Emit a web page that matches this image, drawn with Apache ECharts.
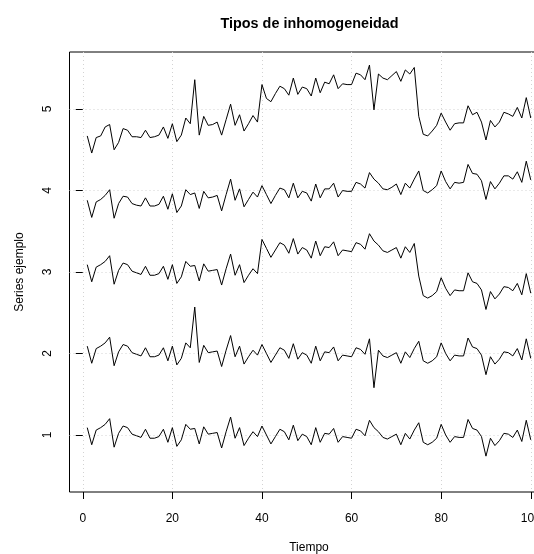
<!DOCTYPE html>
<html>
<head>
<meta charset="utf-8">
<script src="https://cdn.jsdelivr.net/npm/echarts@6/dist/echarts.min.js"></script>
<style>
    html, body { margin: 0; padding: 0; background: #fff; }
    #main { width: 534px; height: 554px; }
</style>
</head>
<body>
<div id="main"></div>
<script>
var xTicks = [0, 20, 40, 60, 80, 100];
var yTicks = [1, 2, 3, 4, 5];

// serie base (sin inhomogeneidad)
var serie1 = [
    1.09, 0.88, 1.06, 1.09, 1.13, 1.20, 0.85, 1.02, 1.11, 1.09,
    1.01, 0.99, 0.97, 1.07, 0.96, 0.96, 0.98, 1.07, 0.91, 1.09,
    0.86, 0.94, 1.13, 1.07, 1.08, 0.89, 1.10, 1.01, 1.02, 1.03,
    0.84, 1.04, 1.22, 0.96, 1.09, 0.87, 0.96, 1.04, 0.98, 1.11,
    1.00, 0.89, 0.98, 1.07, 1.04, 0.94, 1.12, 0.93, 1.01, 0.98,
    0.88, 1.09, 0.91, 1.02, 1.01, 1.08, 0.91, 0.98, 0.97, 0.96,
    1.07, 1.05, 0.99, 1.18, 1.09, 1.04, 0.97, 0.95, 0.98, 1.01,
    0.88, 1.02, 0.95, 1.06, 1.15, 0.91, 0.88, 0.91, 0.96, 1.13,
    1.00, 0.91, 0.98, 0.97, 0.97, 1.19, 1.08, 1.06, 0.98, 0.74,
    0.96, 0.87, 0.93, 1.02, 1.01, 0.97, 1.06, 0.92, 1.18, 0.94
];

// con valores atipicos
var serie2 = [
    2.09, 1.88, 2.06, 2.09, 2.13, 2.20, 1.85, 2.02, 2.11, 2.09,
    2.01, 1.99, 1.97, 2.07, 1.96, 1.96, 1.98, 2.07, 1.91, 2.09,
    1.86, 1.94, 2.13, 2.07, 2.57, 1.89, 2.10, 2.01, 2.02, 2.03,
    1.84, 2.04, 2.22, 1.96, 2.09, 1.87, 1.96, 2.04, 1.98, 2.11,
    2.00, 1.89, 1.98, 2.07, 2.04, 1.94, 2.12, 1.93, 2.01, 1.98,
    1.88, 2.09, 1.91, 2.02, 2.01, 2.08, 1.91, 1.98, 1.97, 1.96,
    2.07, 2.05, 1.99, 2.18, 1.58, 2.04, 1.97, 1.95, 1.98, 2.01,
    1.88, 2.02, 1.95, 2.06, 2.15, 1.91, 1.88, 1.91, 1.96, 2.13,
    2.00, 1.91, 1.98, 1.97, 1.97, 2.19, 2.08, 2.06, 1.98, 1.74,
    1.96, 1.87, 1.93, 2.02, 2.01, 1.97, 2.06, 1.92, 2.18, 1.94
];

// con saltos
var serie3 = [
    3.09, 2.88, 3.06, 3.09, 3.13, 3.20, 2.85, 3.02, 3.11, 3.09,
    3.01, 2.99, 2.97, 3.07, 2.96, 2.96, 2.98, 3.07, 2.91, 3.09,
    2.86, 2.94, 3.13, 3.07, 3.08, 2.89, 3.10, 3.01, 3.02, 3.03,
    2.84, 3.04, 3.22, 2.96, 3.09, 2.87, 2.96, 3.04, 2.98, 3.40,
    3.29, 3.18, 3.27, 3.36, 3.33, 3.23, 3.41, 3.22, 3.30, 3.27,
    3.17, 3.38, 3.20, 3.31, 3.30, 3.37, 3.20, 3.27, 3.26, 3.25,
    3.36, 3.34, 3.28, 3.47, 3.38, 3.33, 3.26, 3.24, 3.27, 3.30,
    3.17, 3.31, 3.24, 3.35, 2.95, 2.71, 2.68, 2.71, 2.76, 2.93,
    2.80, 2.71, 2.78, 2.77, 2.77, 2.99, 2.88, 2.86, 2.78, 2.54,
    2.76, 2.67, 2.73, 2.82, 2.81, 2.77, 2.86, 2.72, 2.98, 2.74
];

// con tendencia
var serie4 = [
    3.88, 3.67, 3.86, 3.89, 3.94, 4.01, 3.66, 3.84, 3.93, 3.92,
    3.84, 3.82, 3.81, 3.91, 3.81, 3.81, 3.83, 3.93, 3.77, 3.96,
    3.73, 3.81, 4.01, 3.95, 3.97, 3.78, 3.99, 3.91, 3.92, 3.94,
    3.75, 3.95, 4.14, 3.88, 4.02, 3.80, 3.89, 3.98, 3.92, 4.06,
    3.95, 3.84, 3.94, 4.03, 4.01, 3.91, 4.09, 3.91, 3.99, 3.97,
    3.87, 4.08, 3.91, 4.02, 4.02, 4.09, 3.92, 4.00, 3.99, 3.99,
    4.10, 4.08, 4.03, 4.22, 4.14, 4.09, 4.02, 4.01, 4.04, 4.08,
    3.95, 4.09, 4.03, 4.14, 4.24, 4.00, 3.97, 4.01, 4.06, 4.24,
    4.11, 4.02, 4.10, 4.09, 4.10, 4.32, 4.21, 4.20, 4.12, 3.89,
    4.11, 4.02, 4.09, 4.18, 4.18, 4.14, 4.23, 4.10, 4.36, 4.13
];

// todo junto
var serie5 = [
    4.67, 4.46, 4.65, 4.67, 4.78, 4.81, 4.50, 4.59, 4.76, 4.74,
    4.66, 4.66, 4.65, 4.74, 4.65, 4.66, 4.68, 4.78, 4.64, 4.82,
    4.60, 4.68, 4.89, 4.82, 5.36, 4.68, 4.91, 4.80, 4.81, 4.84,
    4.68, 4.87, 5.06, 4.80, 4.93, 4.73, 4.82, 4.92, 4.84, 5.30,
    5.13, 5.09, 5.19, 5.28, 5.25, 5.17, 5.38, 5.18, 5.27, 5.25,
    5.16, 5.38, 5.20, 5.33, 5.31, 5.42, 5.25, 5.31, 5.30, 5.30,
    5.44, 5.42, 5.36, 5.54, 4.99, 5.43, 5.38, 5.36, 5.41, 5.46,
    5.34, 5.48, 5.43, 5.51, 4.91, 4.69, 4.67, 4.73, 4.80, 4.95,
    4.84, 4.74, 4.82, 4.83, 4.83, 5.04, 4.93, 4.96, 4.84, 4.62,
    4.86, 4.78, 4.84, 4.96, 4.94, 4.91, 5.02, 4.89, 5.14, 4.89
];

var seriesList = [serie1, serie2, serie3, serie4, serie5];

function pairs(values) {
    var out = [];
    for (var i = 0; i < values.length; i++) {
        out.push([i + 1, values[i]]);
    }
    return out;
}

var font = 'Liberation Sans';
var myChart = echarts.init(document.getElementById('main'), null, { renderer: 'canvas' });

var series = seriesList.map(function (s) {
    return {
        type: 'line',
        data: pairs(s),
        showSymbol: false,
        symbol: 'none',
        silent: true,
        animation: false,
        lineStyle: { color: '#000', width: 1 }
    };
});

var option = {
    backgroundColor: '#fff',
    animation: false,
    title: {
        text: 'Tipos de inhomogeneidad',
        left: 309.5,
        top: 17,
        padding: 0,
        textAlign: 'center',
        textStyle: { fontFamily: font, fontSize: 14.4, fontWeight: 'bold', color: '#000' }
    },
    grid: {
        left: 69.5,
        top: 52,
        width: 479,
        height: 440,
        outerBoundsMode: 'none',
        containLabel: false,
        show: true,
        borderColor: '#000',
        borderWidth: 1,
        backgroundColor: 'transparent'
    },
    xAxis: {
        type: 'value',
        min: -2.96,
        max: 103.96,
        name: 'Tiempo',
        nameLocation: 'middle',
        nameGap: 50,
        nameTextStyle: { fontFamily: font, fontSize: 12, color: '#000' },
        axisLine: { show: false },
        axisTick: { show: true, length: 7, customValues: xTicks, lineStyle: { color: '#000' } },
        axisLabel: { customValues: xTicks, margin: 21, fontFamily: font, fontSize: 12, color: '#000' },
        splitLine: { show: true, lineStyle: { color: '#d3d3d3', type: [1, 3], width: 1 } }
    },
    yAxis: {
        type: 'value',
        min: 0.3,
        max: 5.7,
        name: 'Series ejemplo',
        nameLocation: 'middle',
        nameGap: 44,
        nameRotate: 90,
        nameTextStyle: { fontFamily: font, fontSize: 12, color: '#000' },
        axisLine: { show: false },
        axisTick: { show: true, length: 7, customValues: yTicks, lineStyle: { color: '#000' } },
        axisLabel: { customValues: yTicks, rotate: 90, margin: 16, fontFamily: font, fontSize: 12, color: '#000' },
        splitLine: { show: true, lineStyle: { color: '#d3d3d3', type: [1, 3], width: 1 } }
    },
    series: series
};
myChart.setOption(option);
</script>
</body>
</html>
